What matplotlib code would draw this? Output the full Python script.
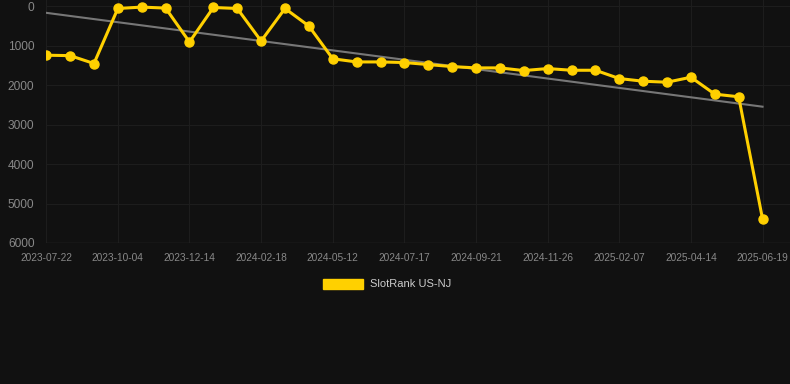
import numpy as np
import matplotlib
matplotlib.use("Agg")
import matplotlib.pyplot as plt
from matplotlib.patches import Patch

tick_labels = ["2023-07-22", "2023-10-04", "2023-12-14", "2024-02-18", "2024-05-12",
               "2024-07-17", "2024-09-21", "2024-11-26", "2025-02-07", "2025-04-14",
               "2025-06-19"]
ranks = [1240, 1250, 1450, 55, 20, 45, 905, 30, 55, 880, 55, 500,
         1330, 1410, 1410, 1425, 1477, 1528, 1561, 1561, 1629, 1578, 1621, 1621,
         1831, 1899, 1924, 1798, 2227, 2293, 5391]
series_name = "SlotRank US-NJ"

bg = "#111111"
gold = "#FFD000"
fig = plt.figure(figsize=(7.9, 3.84), dpi=100, facecolor=bg)
ax = fig.add_axes([45.5/790, 1-243/384, 1-45.5/790, 243/384])
ax.set_facecolor(bg)

x = np.arange(len(ranks))
coef = np.polyfit(x, ranks, 1)
ax.plot(x, np.polyval(coef, x), color="#777777", lw=1.5, zorder=2)
ax.plot(x, ranks, color=gold, lw=2.2, marker="o", ms=6.5, zorder=3)

ax.set_ylim(6000, -160)
ax.set_xlim(-0.03, 31.15)
ax.set_yticks(range(0, 6001, 1000))
ax.set_xticks(x[::3])
ax.set_xticklabels(tick_labels)
ax.grid(True, color="#1d1d1d", lw=0.8)
for s in ax.spines.values():
    s.set_visible(False)
ax.axhline(6000, color="#2c2c2c", lw=1)
ax.tick_params(axis="both", length=0, colors="#888888")
for lab in ax.get_yticklabels():
    lab.set_fontsize(8.6)
    lab.set_fontfamily("Liberation Sans")
for lab in ax.get_xticklabels():
    lab.set_fontsize(7.3)
    lab.set_fontfamily("Liberation Sans")
ax.tick_params(axis="y", pad=8)
ax.tick_params(axis="x", pad=7)

leg = fig.legend(handles=[Patch(facecolor=gold, edgecolor=gold)], labels=[series_name],
                 loc="center", bbox_to_anchor=(387/790, 1-284/384), frameon=False,
                 handlelength=3.6, handleheight=1.0, handletextpad=0.6,
                 prop={"family": "Liberation Sans", "size": 8})
for t in leg.get_texts():
    t.set_color("#cccccc")

fig.savefig("out.png", dpi=100, facecolor=bg)
